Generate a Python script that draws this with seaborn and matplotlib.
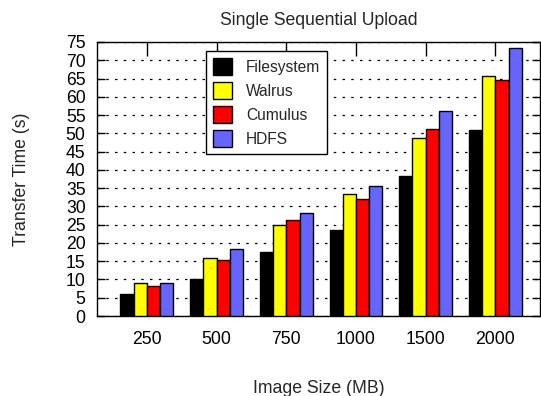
import matplotlib
matplotlib.use("Agg")
import matplotlib.pyplot as plt
import seaborn as sns
import pandas as pd

# Values
sizes = ["250", "500", "750", "1000", "1500", "2000"]
filesystem = [6.1, 10.0, 17.4, 23.5, 38.4, 50.9]
walrus = [9.1, 16.0, 24.9, 33.5, 48.8, 65.6]
cumulus = [8.3, 15.3, 26.3, 31.9, 51.2, 64.5]
hdfs = [8.9, 18.4, 28.2, 35.6, 56.1, 73.4]
systems = ["Filesystem", "Walrus", "Cumulus", "HDFS"]
colors = ["#000000", "#ffff00", "#ff0000", "#6666ff"]

rows = []
for name, vals in zip(systems, [filesystem, walrus, cumulus, hdfs]):
    for s, v in zip(sizes, vals):
        rows.append({"size": s, "system": name, "time": v})
df = pd.DataFrame(rows)

sns.set_style("white")
plt.rcParams["font.family"] = ["Liberation Sans", "DejaVu Sans"]
fs = 12.7

fig = plt.figure(figsize=(5.41, 3.96), dpi=100)
ax = fig.add_axes([0.1787, 0.202, 0.8195, 0.692])

sns.barplot(data=df, x="size", y="time", hue="system", order=sizes,
            hue_order=systems, palette=colors, width=0.76, saturation=1,
            edgecolor="black", linewidth=1, ax=ax, zorder=3)

# dotted horizontal grid
ax.set_axisbelow(True)
ax.yaxis.grid(True, color="black", linestyle=(0, (2, 5)), linewidth=0.9)
ax.xaxis.grid(False)

ax.set_ylim(0, 75)
ax.set_yticks(range(0, 76, 5))
ax.set_xlim(-0.72, 5.64)

for sp in ax.spines.values():
    sp.set_visible(True)
    sp.set_color("black")
    sp.set_linewidth(1)

ax.tick_params(axis="y", direction="in", length=6, width=1, left=True,
               right=True, pad=8, labelsize=fs, colors="black")
ax.tick_params(axis="x", direction="in", length=10, width=1, top=True,
               bottom=True, pad=11, labelsize=fs, colors="black")

ax.set_title("Single Sequential Upload", fontsize=fs, pad=12)
ax.set_xlabel("Image Size (MB)", fontsize=fs, labelpad=23)
ax.set_ylabel("Transfer Time (s)", fontsize=fs, labelpad=26)

leg = ax.legend(loc="upper left", bbox_to_anchor=(0.246, 0.967),
                borderaxespad=0, frameon=True, fancybox=False,
                edgecolor="black", framealpha=1, fontsize=11.2,
                handlelength=1.24, handleheight=1.35, handletextpad=0.9,
                labelspacing=0.42, borderpad=0.45)
leg.get_frame().set_linewidth(1)

fig.savefig("out.png", dpi=100)
